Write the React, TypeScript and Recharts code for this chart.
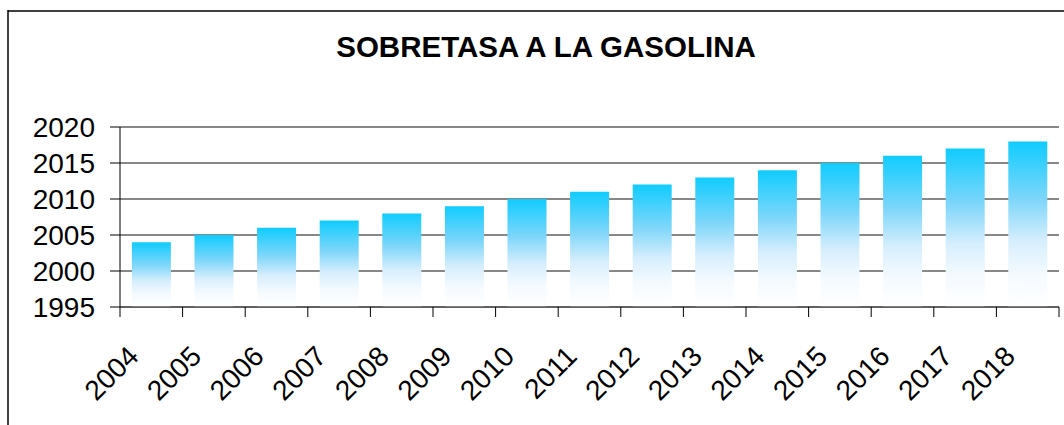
import React from "react";
import { BarChart, Bar, XAxis, YAxis, CartesianGrid } from "recharts";

const TITLE = "SOBRETASA A LA GASOLINA";
const years = ["2004", "2005", "2006", "2007", "2008", "2009", "2010", "2011", "2012", "2013", "2014", "2015", "2016", "2017", "2018"];
const values = [2004, 2005, 2006, 2007, 2008, 2009, 2010, 2011, 2012, 2013, 2014, 2015, 2016, 2017, 2018];
const yTicks = [1995, 2000, 2005, 2010, 2015, 2020];

const data = years.map((y, i) => ({ year: y, value: values[i] }));

const W = 1064;
const H = 425;
const MARGIN = { top: 127, right: 5, left: 8, bottom: 8 };
const Y_AXIS_W = 112;
const X_AXIS_H = 110;
const PLOT_W = W - MARGIN.left - MARGIN.right - Y_AXIS_W;
const FONT = "'Liberation Sans', Arial, sans-serif";

const XTick = (props: any) => {
  const { x, y, payload, index } = props;
  const bw = PLOT_W / years.length;
  const ax = x - 11;
  const ay = y + 51;
  return (
    <g>
      <line x1={x - bw / 2} x2={x - bw / 2} y1={y} y2={y + 10} stroke="#000" strokeWidth={1} />
      {index === years.length - 1 && (
        <line x1={x + bw / 2} x2={x + bw / 2} y1={y} y2={y + 10} stroke="#000" strokeWidth={1} />
      )}
      <text
        x={ax}
        y={ay}
        textAnchor="end"
        fontSize={28}
        fontFamily={FONT}
        fill="#000"
        transform={`rotate(-45, ${ax}, ${ay})`}
      >
        {payload.value}
      </text>
    </g>
  );
};

export default function App() {
  return (
    <div style={{ position: "absolute", left: 0, top: 0, width: W, height: H, background: "#fff", overflow: "hidden" }}>
      <svg width={W} height={H} style={{ position: "absolute", left: 0, top: 0 }}>
        <line x1={8} y1={10} x2={8} y2={H} stroke="#000" strokeWidth={1.5} />
        <line x1={8} y1={11} x2={W} y2={11} stroke="#000" strokeWidth={1.5} />
        <text x={546} y={57} textAnchor="middle" fontSize={29.5} fontWeight="bold" fontFamily={FONT} fill="#000">
          {TITLE}
        </text>
      </svg>
      <div style={{ position: "absolute", left: 0, top: 0 }}>
        <BarChart width={W} height={H} data={data} margin={MARGIN} barCategoryGap="19%">
          <defs>
            <linearGradient id="barGrad" x1="0" y1="0" x2="0" y2="1">
              <stop offset="0" stopColor="#10CCFF" />
              <stop offset="0.35" stopColor="#7ED6FA" />
              <stop offset="0.6" stopColor="#D6EEFD" />
              <stop offset="0.8" stopColor="#F4FAFF" />
              <stop offset="1" stopColor="#FFFFFF" />
            </linearGradient>
          </defs>
          <CartesianGrid vertical={false} stroke="#111" strokeWidth={1} />
          <XAxis
            dataKey="year"
            height={X_AXIS_H}
            interval={0}
            tickLine={false}
            tickSize={0}
            tickMargin={0}
            axisLine={{ stroke: "#555", strokeWidth: 1.5 }}
            tick={<XTick />}
          />
          <YAxis
            width={Y_AXIS_W}
            domain={[1995, 2020]}
            ticks={yTicks}
            interval={0}
            allowDataOverflow
            tickSize={10}
            tickMargin={15}
            tickLine={{ stroke: "#000" }}
            axisLine={{ stroke: "#000" }}
            tick={{ fontSize: 28, fontFamily: FONT, fill: "#000" }}
          />
          <Bar dataKey="value" fill="url(#barGrad)" isAnimationActive={false} />
        </BarChart>
      </div>
    </div>
  );
}
